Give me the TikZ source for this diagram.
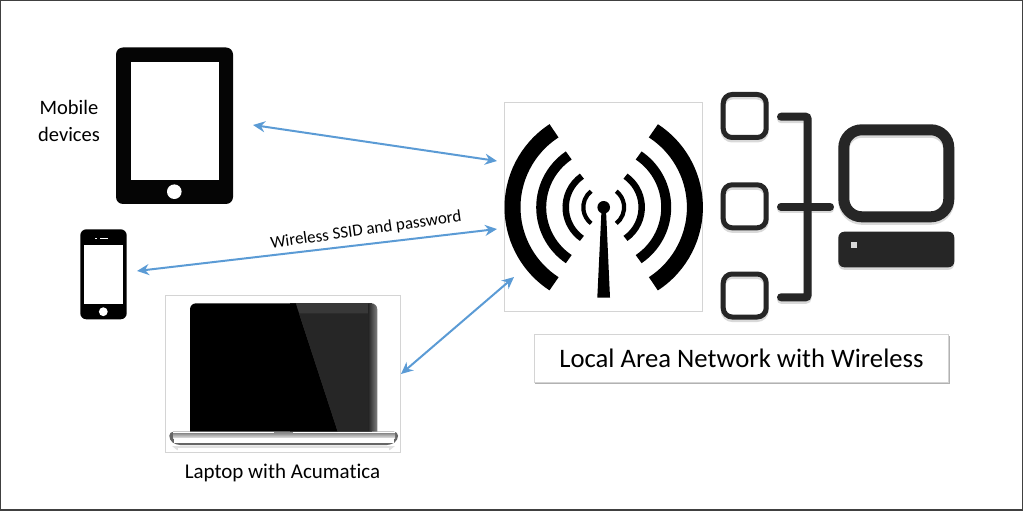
\documentclass[tikz,border=0pt]{standalone}
\usepackage{fontspec}
\usetikzlibrary{arrows.meta}
\setmainfont[Ligatures=NoCommon]{Carlito}
\definecolor{linkblue}{HTML}{5B9BD5}
\definecolor{iconblack}{HTML}{262626}
\definecolor{boxgrey}{HTML}{D4D4D4}
\tikzset{
  link/.style={<->,draw=linkblue,line width=2pt},
  imagebox/.style={draw=boxgrey,line width=0.8pt},
  caption/.style={inner sep=0pt,align=center,text=black},
  iconline/.style={draw=iconblack,line width=5pt},
  iconshadow/.style={draw=black!15,line width=5pt}
}
\begin{document}
\begin{tikzpicture}[x=1pt,y=-1pt,>={Stealth[length=12pt,width=11pt]}]
  \useasboundingbox (0,0) rectangle (1024,529);
  \draw[draw=black!75,line width=1.4pt] (0.5,0.5) rectangle (1022.5,510);
  % tablet
  \fill[black!98,rounded corners=7pt] (116,47.5) rectangle (233,204);
  \fill[white] (130.7,62.3) rectangle (218.7,179.7);
  \fill[white] (174.3,191.7) circle (7.3pt);
  \node[caption,font=\fontsize{20.5}{27}\selectfont] (mobile) at (69,120.5) {Mobile\\devices};
  % phone
  \fill[black,rounded corners=6pt] (80.3,229.3) rectangle (126.7,319.3);
  \fill[white] (84,245.3) rectangle (123,304);
  \fill[white] (103.3,311.7) circle (4.4pt);
  \fill[white] (95,237.6) rectangle (97,239);
  \fill[white] (99.5,237.6) rectangle (108,239);
  % laptop with its image frame
  \node[imagebox,minimum width=235pt,minimum height=157pt,inner sep=0pt] (laptopbox) at (282.8,373.6) {};
  \fill[black!78] (290,431.7) -- (290,303.3) -- (372,303.3) -- (372,431.7) -- cycle;
  \shade[left color=black!85,right color=black!50] (368.3,431.7) -- (368.3,303.3) [rounded corners=6pt] -- (377.3,303.3) [sharp corners] -- (377.3,431.7) -- cycle;
  \fill[black] (190,431.7) [rounded corners=6pt] -- (190,303.3) [sharp corners] -- (295.7,303.3) -- (337.7,431.7) -- cycle;
  \fill[black!85] (299,313.3) -- (368.3,313.3) -- (368.3,431.7) -- (337.7,431.7) -- cycle;
  % base of the laptop
  \fill[black!60,rounded corners=4pt] (169.3,431.7) -- (398,431.7) -- (398,440) -- (391,445) -- (176,445) -- (169.3,440) -- cycle;
  \fill[white] (173,431.9) rectangle (395,433.2);
  \shade[top color=black!45,bottom color=black!10] (173,433.2) rectangle (395,438);
  \fill[white] (174,438) rectangle (394,443.4);
  \fill[black!45] (274.3,431.7) rectangle (292.7,434.2);
  \fill[black!12] (172,446) -- (395,446) -- (390,450) -- (177,450) -- cycle;
  \fill[white] (178,447.5) rectangle (389,450.5);
  \node[caption,font=\fontsize{21}{24}\selectfont] (laptoplabel) at (282.5,473) {Laptop with Acumatica};
  % antenna with its image frame
  \node[imagebox,minimum width=198pt,minimum height=208.5pt,inner sep=0pt] (wifibox) at (603.3,206.9) {};
  \foreach \r/\w/\a in {91.2/16/57, 62.5/10/56, 38/6.5/55, 20.4/4.2/52}{
    \draw[line width=\w pt,black] ([shift={(603.7,207.3)}]180-\a:\r pt) arc[start angle=180-\a,end angle=180+\a,radius=\r pt];
    \draw[line width=\w pt,black] ([shift={(603.7,207.3)}]-\a:\r pt) arc[start angle=-\a,end angle=\a,radius=\r pt];
  }
  \fill[black] (603.7,207.3) circle (6.3pt);
  \fill[black] (601.5,210) -- (606,210) -- (610,297.7) -- (597.3,297.7) -- cycle;
  % network symbol, grey copy first for the soft shadow
  \foreach \y/\col in {2.5/iconshadow,0/iconline}{
    \begin{scope}[yshift=-\y pt]
      \foreach \t in {92,182.3,271.5}{
        \draw[\col,rounded corners=9pt] (723.2,\t+2.5) rectangle (766.2,\t+45.5);
      }
      \draw[\col,line cap=round,line width=8pt,rounded corners=2pt] (781,116.7) -- (807.5,116.7) -- (807.5,297.3) -- (781,297.3);
      \draw[\col,line cap=round,line width=8pt] (781,206.7) -- (830,206.7);
      \draw[\col,line width=11pt,rounded corners=18pt] (843.8,129.8) rectangle (948.8,216.8);
    \end{scope}
  }
  \fill[black!15,rounded corners=6pt] (838.3,234.2) rectangle (954.3,269.8);
  \fill[iconblack,rounded corners=6pt] (838.3,231.7) rectangle (954.3,267.3);
  \fill[black!15] (851,242.2) rectangle (856.5,247.8);
  % caption box
  \fill[black!30] (534.5,335.5) rectangle (949.5,383.5);
  \node[draw=boxgrey,fill=white,line width=0.8pt,minimum width=414.5pt,minimum height=48pt,inner sep=0pt,font=\fontsize{26.7}{30}\selectfont] (lanlabel) at (741.4,358.5) {Local Area Network with Wireless};
  % links
  \coordinate (tabletend) at (253,125);
  \coordinate (wifitop) at (497,161);
  \coordinate (phoneend) at (137,271);
  \coordinate (wifimid) at (497,229);
  \coordinate (laptopend) at (401,374);
  \coordinate (wifilow) at (514,277);
  \draw[link] (tabletend) -- (wifitop);
  \draw[link] (phoneend) -- (wifimid);
  \draw[link] (laptopend) -- (wifilow);
  \node[caption,rotate=8,font=\fontsize{17}{18}\selectfont] (ssid) at (366,230.5) {Wireless SSID and password};
\end{tikzpicture}
\end{document}
